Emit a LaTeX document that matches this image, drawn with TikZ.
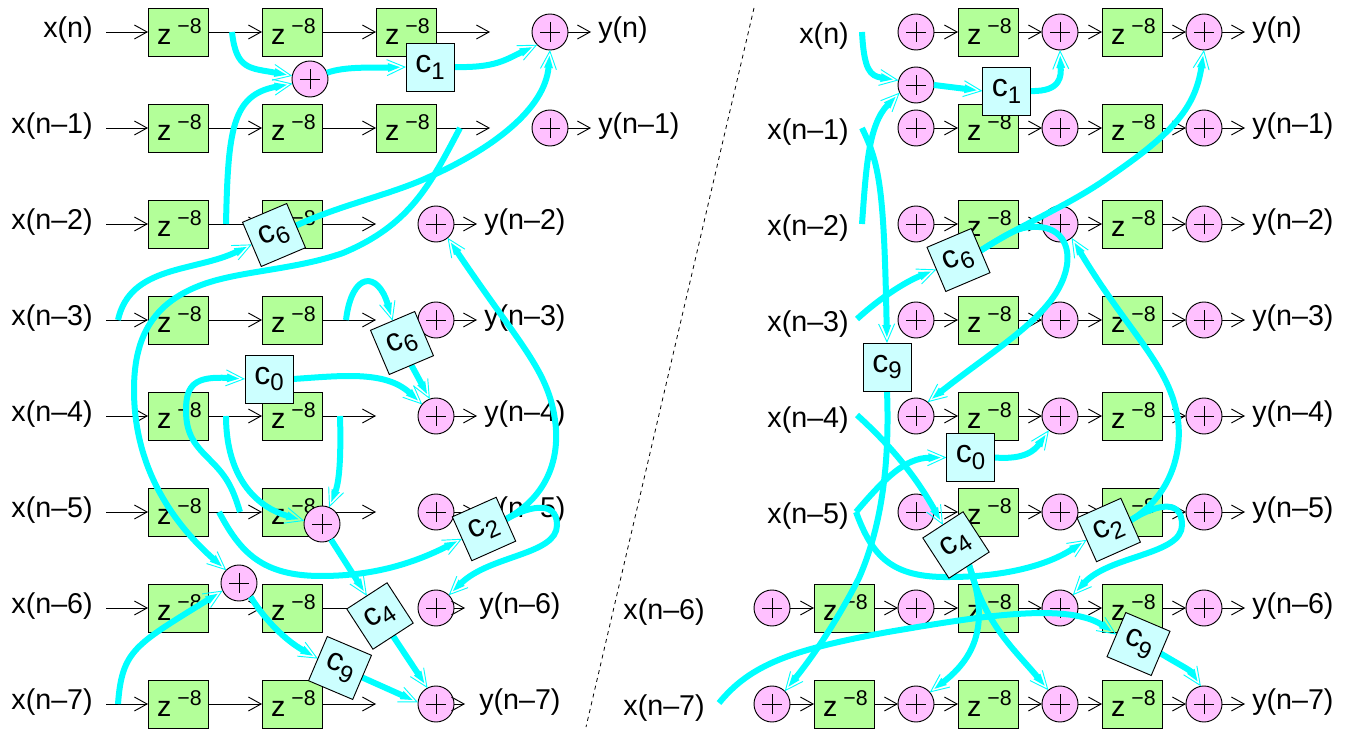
\documentclass[tikz,border=0pt]{standalone}
\usepackage{fontspec}
\setmainfont{Liberation Sans}
\usetikzlibrary{arrows.meta,positioning}
\pgfdeclarelayer{front}
\pgfsetlayers{main,front}
\definecolor{delaygreen}{RGB}{179,255,153}
\definecolor{sumpink}{RGB}{255,192,255}
\definecolor{factorcyan}{RGB}{204,255,255}
\definecolor{tapcyan}{RGB}{0,255,255}
\newcommand{\zdelay}{\kern2pt z\kern4.5pt\raisebox{8.2pt}{\fontsize{16}{16}\selectfont −8}}
\newcommand{\cfactor}[1]{c\raisebox{-5.2pt}{\fontsize{18}{18}\selectfont #1}}

\begin{document}
\begin{tikzpicture}[
  x=0.75pt, y=-0.75pt,
  node distance=18pt,
  every node/.style={font=\fontsize{21.5}{25}\selectfont},
  wire/.style={-{Straight Barb[length=9.5pt,width=10.5pt]}, line width=0.7pt},
  tap/.style={-{Straight Barb[length=13.5pt,width=12pt,line width=0.7pt,sep=-13.5pt] Stealth[length=13.5pt,width=5pt,inset=0pt]}, line width=4.5pt, draw=tapcyan},
  delaybox/.style={draw, fill=delaygreen, line width=0.7pt, outer sep=0pt, inner sep=0pt, minimum width=45pt, minimum height=36pt},
  sumnode/.style={circle, draw, fill=sumpink, line width=0.7pt, outer sep=0pt, inner sep=0pt, minimum size=27pt,
    path picture={
      \draw ([xshift=-7.5pt]path picture bounding box.center) -- ([xshift=7.5pt]path picture bounding box.center);
      \draw ([yshift=-7.5pt]path picture bounding box.center) -- ([yshift=7.5pt]path picture bounding box.center);
    }},
  factorbox/.style={draw, fill=factorcyan, line width=0.7pt, outer sep=0pt, inner sep=0pt, minimum size=36pt, font=\fontsize{24}{25}\selectfont},
  inlabel/.style={anchor=east, inner xsep=9.75pt, inner ysep=0pt},
  outlabel/.style={anchor=west, inner xsep=5.25pt, inner ysep=0pt},
  plainlabel/.style={anchor=east, inner sep=0pt}
]
\useasboundingbox (0,0) rectangle (1353,730);

% left half
\node[inlabel] (lx0) at (106,30) {x(n)};
\node[inlabel] (lx1) at (106,126) {x(n–1)};
\node[inlabel] (lx2) at (106,222) {x(n–2)};
\node[inlabel] (lx3) at (106,318) {x(n–3)};
\node[inlabel] (lx4) at (106,414) {x(n–4)};
\node[inlabel] (lx5) at (106,510) {x(n–5)};
\node[inlabel] (lx6) at (106,606) {x(n–6)};
\node[inlabel] (lx7) at (106,702) {x(n–7)};

\node[delaybox] (ld0a) at (178,32) {\zdelay};
\node[delaybox, right=40.5pt of ld0a] (ld0b) {\zdelay};
\node[delaybox, right=40.5pt of ld0b] (ld0c) {\zdelay};
\node[delaybox, below=36pt of ld0a] (ld1a) {\zdelay};
\node[delaybox, right=40.5pt of ld1a] (ld1b) {\zdelay};
\node[delaybox, right=40.5pt of ld1b] (ld1c) {\zdelay};
\node[delaybox, below=36pt of ld1a] (ld2a) {\zdelay};
\node[delaybox, right=40.5pt of ld2a] (ld2b) {\zdelay};
\node[delaybox, below=36pt of ld2a] (ld3a) {\zdelay};
\node[delaybox, right=40.5pt of ld3a] (ld3b) {\zdelay};
\node[delaybox, below=36pt of ld3a] (ld4a) {\zdelay};
\node[delaybox, right=40.5pt of ld4a] (ld4b) {\zdelay};
\node[delaybox, below=36pt of ld4a] (ld5a) {\zdelay};
\node[delaybox, right=40.5pt of ld5a] (ld5b) {\zdelay};
\node[delaybox, below=36pt of ld5a] (ld6a) {\zdelay};
\node[delaybox, right=40.5pt of ld6a] (ld6b) {\zdelay};
\node[delaybox, below=36pt of ld6a] (ld7a) {\zdelay};
\node[delaybox, right=40.5pt of ld7a] (ld7b) {\zdelay};

\node[sumnode] (ls0) at (550,32) {};
\node[sumnode] (ls1) at (550,128) {};
\node[sumnode] (ls2) at (436,224) {};
\node[sumnode] (ls3) at (436,320) {};
\node[sumnode] (ls4) at (436,416) {};
\node[sumnode] (ls5) at (436,512) {};
\node[sumnode] (ls6) at (436,608) {};
\node[sumnode] (ls7) at (436,704) {};

\node[outlabel] (ly0) at (591,30) {y(n)};
\node[outlabel] (ly1) at (591,126) {y(n–1)};
\node[outlabel] (ly2) at (477,222) {y(n–2)};
\node[outlabel] (ly3) at (477,318) {y(n–3)};
\node[outlabel] (ly4) at (477,414) {y(n–4)};
\node[outlabel] (ly5) at (477,510) {y(n–5)};
\node[outlabel, inner xsep=10.5pt] (ly6) at (465,606) {y(n–6)};
\node[outlabel, inner xsep=10.5pt] (ly7) at (465,702) {y(n–7)};

\coordinate (lo0) at (490,32);
\coordinate (lo1) at (490,128);
\coordinate (lo2) at (376,224);
\coordinate (lo3) at (376,320);
\coordinate (lo4) at (376,416);
\coordinate (lo5) at (376,512);
\coordinate (lo6) at (376,608);
\coordinate (lo7) at (376,704);

\path[wire] (ld0a -| lx0.east) edge (ld0a) (ld0a) edge (ld0b) (ld0b) edge (ld0c) (ld0c) edge (lo0) (ls0) edge (ly0.west |- ls0);
\path[wire] (ld1a -| lx1.east) edge (ld1a) (ld1a) edge (ld1b) (ld1b) edge (ld1c) (ld1c) edge (lo1) (ls1) edge (ly1.west |- ls1);
\path[wire] (ld2a -| lx2.east) edge (ld2a) (ld2a) edge (ld2b) (ld2b) edge (lo2) (ls2) edge (ly2.west |- ls2);
\path[wire] (ld3a -| lx3.east) edge (ld3a) (ld3a) edge (ld3b) (ld3b) edge (lo3) (ls3) edge (ly3.west |- ls3);
\path[wire] (ld4a -| lx4.east) edge (ld4a) (ld4a) edge (ld4b) (ld4b) edge (lo4) (ls4) edge (ly4.west |- ls4);
\path[wire] (ld5a -| lx5.east) edge (ld5a) (ld5a) edge (ld5b) (ld5b) edge (lo5) (ls5) edge (ly5.west |- ls5);
\path[wire] (ld6a -| lx6.east) edge (ld6a) (ld6a) edge (ld6b) (ld6b) edge (lo6) (ls6) edge (ly6.west |- ls6);
\path[wire] (ld7a -| lx7.east) edge (ld7a) (ld7a) edge (ld7b) (ld7b) edge (lo7) (ls7) edge (ly7.west |- ls7);

\node[sumnode] (lpa) at (310,79) {};
\node[sumnode] (lpb) at (322,524) {};
\node[sumnode] (lpc) at (239,583) {};

\begin{pgfonlayer}{front}
\node[factorbox] (lc1) at (430,67) {\cfactor{1}};
\node[factorbox, rotate=23] (lc6a) at (274,235) {\cfactor{6}};
\node[factorbox, rotate=23] (lc6b) at (402,343) {\cfactor{6}};
\node[factorbox] (lc0) at (269,379) {\cfactor{0}};
\node[factorbox, rotate=24] (lc2) at (484,529) {\cfactor{2}};
\node[factorbox, rotate=33] (lc4) at (380,616) {\cfactor{4}};
\node[factorbox, rotate=-23] (lc9) at (340,668) {\cfactor{9}};
\end{pgfonlayer}

\coordinate (tapa) at (232,32);
\coordinate (tapb) at (226,224);
\coordinate (tapc) at (460,128);
\coordinate (tapd) at (118,320);
\coordinate (tape) at (346,320);
\coordinate (tapf) at (240,512);
\coordinate (tapg) at (226,416);
\coordinate (taph) at (340,416);
\coordinate (tapi) at (219,512);
\coordinate (tapj) at (118,704);

\draw[tap] (tapa) .. controls (236,70) and (250,68) .. (lpa.170);
\draw[tap] (tapb) .. controls (228,130) and (232,95) .. (lpa.195);
\draw[tap] (lpa.20) .. controls (345,66) and (375,68) .. (lc1.west);
\draw[tap] (lc1.east) .. controls (495,68) and (505,60) .. (ls0.225);
\draw[tap] (lc6a.east) .. controls (340,205) and (390,195) .. (429,177) .. controls (490,150) and (545,110) .. (ls0.south);
\draw[tap] (tapc) .. controls (430,185) and (410,225) .. (343,253) .. controls (300,268) and (255,270) .. (217,280) .. controls (150,298) and (134,340) .. (134,390) .. controls (134,470) and (175,525) .. (lpc.135);
\draw[tap] (tapd) .. controls (130,265) and (195,272) .. (lc6a.west);
\draw[tap] (tape) .. controls (352,271) and (378,271) .. (lc6b.north);
\draw[tap] (lc6b.south) -- (ls4.110);
\draw[tap] (lc0.east) .. controls (340,376) and (385,370) .. (ls4.140);
\draw[tap] (tapf) .. controls (232,485) and (225,475) .. (210,460) .. controls (195,445) and (186,435) .. (186,410) .. controls (186,385) and (195,376) .. (lc0.west);
\draw[tap] (tapg) .. controls (226,470) and (250,505) .. (lpb.170);
\draw[tap] (taph) .. controls (341,450) and (340,480) .. (lpb.67);
\draw[tap] (lpb.-60) -- (lc4.north);
\draw[tap] (lc4.south) -- (ls7.118);
\draw[tap] (tapi) .. controls (240,552) and (262,576) .. (321,576) .. controls (370,576) and (410,565) .. (lc2.west);
\draw[tap] (lc2.east) .. controls (550,495) and (560,455) .. (555,420) .. controls (548,370) and (520,345) .. (ls2.-50);
\draw[tap] (lc2.east) .. controls (525,508) and (557,498) .. (557,525) .. controls (557,555) and (490,555) .. (ls6.45);
\draw[tap] (lpc.-50) .. controls (265,620) and (285,640) .. (lc9.west);
\draw[tap] (lc9.east) -- (ls7.175);
\draw[tap] (tapj) .. controls (122,650) and (135,645) .. (lpc.205);

% divider
\coordinate (dtop) at (754,8);
\coordinate (dbot) at (586,727);
\draw[dashed, line width=0.6pt] (dtop) -- (dbot);

% right half
\node[plainlabel] (rx0) at (849,36) {x(n)};
\node[plainlabel] (rx1) at (849,132) {x(n–1)};
\node[plainlabel] (rx2) at (849,228) {x(n–2)};
\node[plainlabel] (rx3) at (849,324) {x(n–3)};
\node[plainlabel] (rx4) at (849,420) {x(n–4)};
\node[plainlabel] (rx5) at (849,516) {x(n–5)};
\node[plainlabel] (rx6) at (705,612) {x(n–6)};
\node[plainlabel] (rx7) at (705,708) {x(n–7)};

\node[sumnode] (rs0a) at (916,32) {};
\node[delaybox, right=of rs0a] (rd0a) {\zdelay};
\node[sumnode, right=of rd0a] (rs0b) {};
\node[delaybox, right=of rs0b] (rd0b) {\zdelay};
\node[sumnode, right=of rd0b] (rs0c) {};
\node[sumnode] (rs1a) at (916,128) {};
\node[delaybox, right=of rs1a] (rd1a) {\zdelay};
\node[sumnode, right=of rd1a] (rs1b) {};
\node[delaybox, right=of rs1b] (rd1b) {\zdelay};
\node[sumnode, right=of rd1b] (rs1c) {};
\node[sumnode] (rs2a) at (916,224) {};
\node[delaybox, right=of rs2a] (rd2a) {\zdelay};
\node[sumnode, right=of rd2a] (rs2b) {};
\node[delaybox, right=of rs2b] (rd2b) {\zdelay};
\node[sumnode, right=of rd2b] (rs2c) {};
\node[sumnode] (rs3a) at (916,320) {};
\node[delaybox, right=of rs3a] (rd3a) {\zdelay};
\node[sumnode, right=of rd3a] (rs3b) {};
\node[delaybox, right=of rs3b] (rd3b) {\zdelay};
\node[sumnode, right=of rd3b] (rs3c) {};
\node[sumnode] (rs4a) at (916,416) {};
\node[delaybox, right=of rs4a] (rd4a) {\zdelay};
\node[sumnode, right=of rd4a] (rs4b) {};
\node[delaybox, right=of rs4b] (rd4b) {\zdelay};
\node[sumnode, right=of rd4b] (rs4c) {};
\node[sumnode] (rs5a) at (916,512) {};
\node[delaybox, right=of rs5a] (rd5a) {\zdelay};
\node[sumnode, right=of rd5a] (rs5b) {};
\node[delaybox, right=of rs5b] (rd5b) {\zdelay};
\node[sumnode, right=of rd5b] (rs5c) {};
\node[sumnode] (rs6z) at (772,608) {};
\node[delaybox, right=of rs6z] (rd6z) {\zdelay};
\node[sumnode, right=of rd6z] (rs6a) {};
\node[delaybox, right=of rs6a] (rd6a) {\zdelay};
\node[sumnode, right=of rd6a] (rs6b) {};
\node[delaybox, right=of rs6b] (rd6b) {\zdelay};
\node[sumnode, right=of rd6b] (rs6c) {};
\node[sumnode] (rs7z) at (772,704) {};
\node[delaybox, right=of rs7z] (rd7z) {\zdelay};
\node[sumnode, right=of rd7z] (rs7a) {};
\node[delaybox, right=of rs7a] (rd7a) {\zdelay};
\node[sumnode, right=of rd7a] (rs7b) {};
\node[delaybox, right=of rs7b] (rd7b) {\zdelay};
\node[sumnode, right=of rd7b] (rs7c) {};

\node[outlabel] (ry0) at (1245,30) {y(n)};
\node[outlabel] (ry1) at (1245,126) {y(n–1)};
\node[outlabel] (ry2) at (1245,222) {y(n–2)};
\node[outlabel] (ry3) at (1245,318) {y(n–3)};
\node[outlabel] (ry4) at (1245,414) {y(n–4)};
\node[outlabel] (ry5) at (1245,510) {y(n–5)};
\node[outlabel] (ry6) at (1245,606) {y(n–6)};
\node[outlabel] (ry7) at (1245,702) {y(n–7)};

\path[wire] (rs0a) edge (rd0a) (rd0a) edge (rs0b) (rs0b) edge (rd0b) (rd0b) edge (rs0c) (rs0c) edge (ry0.west |- rs0c);
\path[wire] (rs1a) edge (rd1a) (rd1a) edge (rs1b) (rs1b) edge (rd1b) (rd1b) edge (rs1c) (rs1c) edge (ry1.west |- rs1c);
\path[wire] (rs2a) edge (rd2a) (rd2a) edge (rs2b) (rs2b) edge (rd2b) (rd2b) edge (rs2c) (rs2c) edge (ry2.west |- rs2c);
\path[wire] (rs3a) edge (rd3a) (rd3a) edge (rs3b) (rs3b) edge (rd3b) (rd3b) edge (rs3c) (rs3c) edge (ry3.west |- rs3c);
\path[wire] (rs4a) edge (rd4a) (rd4a) edge (rs4b) (rs4b) edge (rd4b) (rd4b) edge (rs4c) (rs4c) edge (ry4.west |- rs4c);
\path[wire] (rs5a) edge (rd5a) (rd5a) edge (rs5b) (rs5b) edge (rd5b) (rd5b) edge (rs5c) (rs5c) edge (ry5.west |- rs5c);
\path[wire] (rs6z) edge (rd6z) (rd6z) edge (rs6a) (rs6a) edge (rd6a) (rd6a) edge (rs6b) (rs6b) edge (rd6b) (rd6b) edge (rs6c) (rs6c) edge (ry6.west |- rs6c);
\path[wire] (rs7z) edge (rd7z) (rd7z) edge (rs7a) (rs7a) edge (rd7a) (rd7a) edge (rs7b) (rs7b) edge (rd7b) (rd7b) edge (rs7c) (rs7c) edge (ry7.west |- rs7c);

\node[sumnode] (rpa) at (916,85) {};

\begin{pgfonlayer}{front}
\node[factorbox] (rc1) at (1006.5,91) {\cfactor{1}};
\node[factorbox, rotate=23] (rc6) at (958.5,260) {\cfactor{6}};
\node[factorbox] (rc9a) at (887,367) {\cfactor{9}};
\node[factorbox] (rc0) at (970.5,457.5) {\cfactor{0}};
\node[factorbox, rotate=33] (rc4) at (956,545) {\cfactor{4}};
\node[factorbox, rotate=24] (rc2) at (1108.7,530) {\cfactor{2}};
\node[factorbox, rotate=-23] (rc9b) at (1138.5,644) {\cfactor{9}};
\end{pgfonlayer}

\coordinate (rtapa) at (862,32);
\coordinate (rtapb) at (862,128);
\coordinate (rtapc) at (862,224);
\coordinate (rtapd) at (857,319);
\coordinate (rtape) at (857,415);
\coordinate (rtapf) at (856,512);
\coordinate (rtapg) at (719,703);

\draw[tap] (rtapa) .. controls (864,70) and (870,76) .. (rpa.165);
\draw[tap] (rtapb) .. controls (880,165) and (884,190) .. (rc9a.north);
\draw[tap] (rtapc) .. controls (866,170) and (868,125) .. (rpa.205);
\draw[tap] (rpa.east) -- (rc1.west);
\draw[tap] (rc1.east) .. controls (1062,92) and (1061,75) .. (rs0b.south);
\draw[tap] (rtapd) .. controls (880,298) and (905,282) .. (rc6.west);
\draw[tap] (rc6.east) .. controls (1020,225) and (1070,205) .. (1109,177) .. controls (1170,135) and (1195,110) .. (rs0c.south);
\draw[tap] (rc6.east) .. controls (1010,232) and (1020,227) .. (1032,227) .. controls (1060,225) and (1072,245) .. (1066,270) .. controls (1055,315) and (1000,345) .. (rs4a.50);
\draw[tap] (rc2.east) .. controls (1165,500) and (1183,460) .. (1178,420) .. controls (1170,365) and (1130,335) .. (rs2b.-50);
\draw[tap] (rc2.east) .. controls (1150,508) and (1182,495) .. (1182,525) .. controls (1182,555) and (1110,555) .. (rs6b.45);
\draw[tap] (rtapf) .. controls (885,478) and (905,458) .. (rc0.west);
\draw[tap] (rtapf) .. controls (872,555) and (890,578) .. (950,577) .. controls (990,577) and (1040,570) .. (rc2.west);
\draw[tap] (rc0.east) .. controls (1025,460) and (1035,450) .. (rs4b.232);
\draw[tap] (rtape) .. controls (890,445) and (915,475) .. (rc4.north);
\draw[tap] (rc9a.south) .. controls (890,470) and (880,530) .. (859,578) .. controls (835,625) and (810,660) .. (rs7z.45);
\draw[tap] (rc4.south) .. controls (985,610) and (985,650) .. (rs7a.40);
\draw[tap] (rc4.south) .. controls (985,625) and (1015,650) .. (rs7b.130);
\draw[tap] (rtapg) .. controls (750,665) and (790,650) .. (888,632) .. controls (960,620) and (1065,600) .. (rc9b.west);
\draw[tap] (rc9b.east) .. controls (1180,665) and (1190,670) .. (rs7c.100);

\end{tikzpicture}
\end{document}
